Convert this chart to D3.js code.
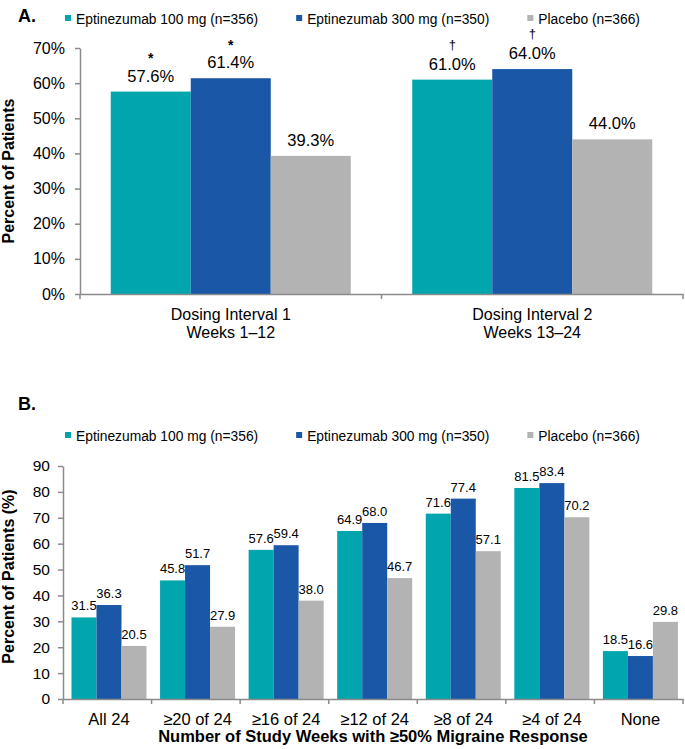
<!DOCTYPE html>
<html>
<head>
<meta charset="utf-8">
<script src="https://cdn.jsdelivr.net/npm/d3@7"></script>
<style>
  body { margin: 0; background: #fff; }
  svg { display: block; font-family: "Liberation Sans", Arial, sans-serif; }
</style>
</head>
<body>
<div class="chart"></div>
<script>
// series
var seriesNames = ["Eptinezumab 100 mg (n=356)", "Eptinezumab 300 mg (n=350)", "Placebo (n=366)"];
var seriesColors = ["#00a5ad", "#1a57a6", "#b3b3b3"];

// panel A: dosing intervals
var intervalCats = ["Dosing Interval 1\nWeeks 1\u201312", "Dosing Interval 2\nWeeks 13\u201324"];
var interval100 = [57.6, 61.0];
var interval300 = [61.4, 64.0];
var intervalPbo = [39.3, 44.0];
var intervalMarks = ["*", "\u2020"];
var intervalTicks = [0, 10, 20, 30, 40, 50, 60, 70];

// panel B: number of weeks with response
var weekCats = ["All 24", "\u226520 of 24", "\u226516 of 24", "\u226512 of 24", "\u22658 of 24", "\u22654 of 24", "None"];
var weeks100 = [31.5, 45.8, 57.6, 64.9, 71.6, 81.5, 18.5];
var weeks300 = [36.3, 51.7, 59.4, 68.0, 77.4, 83.4, 16.6];
var weeksPbo = [20.5, 27.9, 38.0, 46.7, 57.1, 70.2, 29.8];
var weekTicks = [0, 10, 20, 30, 40, 50, 60, 70, 80, 90];

var axisColor = "#8a8a8a";

var svg = d3.select(".chart").append("svg")
    .attr("width", 685)
    .attr("height", 749);

function legend(y) {
    var g = svg.append("g").attr("transform", "translate(0," + y + ")");
    var x = 65;
    seriesNames.forEach(function(name, i) {
        g.append("rect").attr("x", x).attr("y", -9).attr("width", 6).attr("height", 6)
            .attr("fill", seriesColors[i]);
        var t = g.append("text").attr("x", x + 11).attr("y", 0)
            .style("font-size", "13.8px").text(name);
        x += 11 + t.node().getComputedTextLength() + 38;
    });
}

function drawPanel(c) {
    var g = svg.append("g");
    var x0 = d3.scaleBand().domain(c.cats).range([c.left, c.right]);
    var x1 = d3.scaleBand().domain([0, 1, 2]).range([0, 3 * c.barW]);
    var y = d3.scaleLinear().domain([0, d3.max(c.ticks)]).range([c.bottom, c.top]);
    var off = (x0.bandwidth() - 3 * c.barW) / 2 + c.shift;

    var rows = c.cats.map(function(cat, i) {
        return {cat: cat, i: i, vals: c.values.map(function(v, s) { return {v: v[i], s: s, i: i}; })};
    });

    var slice = g.selectAll(".slice").data(rows).enter().append("g")
        .attr("class", "slice")
        .attr("transform", function(d) { return "translate(" + (x0(d.cat) + off) + ",0)"; });

    slice.selectAll("rect").data(function(d) { return d.vals; })
        .enter().append("rect")
        .attr("x", function(d) { return x1(d.s); })
        .attr("width", x1.bandwidth())
        .attr("y", function(d) { return y(d.v); })
        .attr("height", function(d) { return y(0) - y(d.v); })
        .attr("fill", function(d) { return seriesColors[d.s]; });

    slice.selectAll("text.val").data(function(d) { return d.vals; })
        .enter().append("text").attr("class", "val")
        .attr("x", function(d) { return x1(d.s) + x1.bandwidth() / 2; })
        .attr("y", function(d) { return y(d.v) - c.labelGap; })
        .attr("text-anchor", "middle")
        .style("font-size", c.labelSize + "px")
        .text(function(d) { return c.labelFmt(d.v); });

    if (c.marks) {
        // * and dagger above the two active arms
        slice.selectAll("text.mark").data(function(d) { return d.vals.filter(function(v) { return v.s < 2; }); })
            .enter().append("text").attr("class", "mark")
            .attr("x", function(d) { return x1(d.s) + x1.bandwidth() / 2; })
            .attr("y", function(d) { return y(d.v) - c.labelGap + (c.marks[d.i] == "*" ? -18.5 : -21); })
            .attr("text-anchor", "middle")
            .style("font-size", function(d) { return c.marks[d.i] == "*" ? "14px" : "13px"; })
            .style("font-weight", function(d) { return c.marks[d.i] == "*" ? "bold" : null; })
            .text(function(d) { return c.marks[d.i]; });
    }

    // y axis
    var ya = g.append("g").attr("transform", "translate(" + c.left + ",0)")
        .call(d3.axisLeft(y).tickValues(c.ticks).tickFormat(c.tickFmt)
            .tickSize(5).tickSizeOuter(0).tickPadding(c.tickPad))
        .attr("font-family", null).attr("font-size", null);
    ya.select(".domain").attr("stroke", axisColor).attr("stroke-width", 1.5);
    ya.selectAll(".tick line").attr("stroke", axisColor).attr("stroke-width", 1.5);
    ya.selectAll(".tick text").attr("fill", "#000").style("font-size", c.tickFont + "px");

    // x axis
    var xa = g.append("g").attr("transform", "translate(0," + c.bottom + ")")
        .call(d3.axisBottom(x0).tickSize(0).tickSizeOuter(0).tickFormat(""))
        .attr("font-family", null).attr("font-size", null);
    xa.select(".domain").attr("stroke", axisColor).attr("stroke-width", 1.5);
    var bounds = [c.left].concat(c.cats.map(function(d) { return x0(d) + x0.bandwidth(); }));
    xa.selectAll(".bound").data(bounds).enter().append("line")
        .attr("x1", function(d) { return d; }).attr("x2", function(d) { return d; })
        .attr("y1", 0).attr("y2", 5)
        .attr("stroke", axisColor).attr("stroke-width", 1.5);

    var cl = xa.selectAll(".cat").data(c.cats).enter().append("text")
        .attr("class", "cat")
        .attr("text-anchor", "middle")
        .attr("fill", "#000")
        .style("font-size", c.catFont + "px");
    cl.each(function(d) {
        var t = d3.select(this);
        d.split("\n").forEach(function(line, k) {
            t.append("tspan")
                .attr("x", x0(d) + x0.bandwidth() / 2 + c.shift)
                .attr("y", 26 + k * 18)
                .text(line);
        });
    });

    // titles
    g.append("text")
        .attr("transform", "translate(14," + ((c.top + c.bottom) / 2 + c.yTitleShift) + ") rotate(-90)")
        .attr("text-anchor", "middle")
        .style("font-size", "16px").style("font-weight", "bold")
        .text(c.yTitle);
    if (c.xTitle) {
        g.append("text")
            .attr("x", (c.left + c.right) / 2).attr("y", c.bottom + 43)
            .attr("text-anchor", "middle")
            .style("font-size", "16.5px").style("font-weight", "bold")
            .text(c.xTitle);
    }
}

// panel A
svg.append("text").attr("x", 18).attr("y", 22)
    .style("font-size", "18px").style("font-weight", "bold").text("A.");
legend(24);
drawPanel({
    cats: intervalCats,
    values: [interval100, interval300, intervalPbo],
    marks: intervalMarks,
    ticks: intervalTicks,
    tickFmt: function(d) { return d + "%"; },
    labelFmt: function(v) { return v.toFixed(1) + "%"; },
    left: 80, right: 683, top: 48, bottom: 294,
    barW: 80, shift: 0,
    labelSize: 16.5, labelGap: 10,
    tickFont: 16, tickPad: 10, catFont: 16,
    yTitle: "Percent of Patients", yTitleShift: 0
});

// panel B
svg.append("text").attr("x", 18).attr("y", 410)
    .style("font-size", "18px").style("font-weight", "bold").text("B.");
legend(441);
drawPanel({
    cats: weekCats,
    values: [weeks100, weeks300, weeksPbo],
    ticks: weekTicks,
    tickFmt: function(d) { return d; },
    labelFmt: function(v) { return v.toFixed(1); },
    left: 63, right: 683, top: 466, bottom: 699,
    barW: 25, shift: 1.7,
    labelSize: 13, labelGap: 7,
    tickFont: 15.5, tickPad: 8, catFont: 16.5,
    yTitle: "Percent of Patients (%)", yTitleShift: -6,
    xTitle: "Number of Study Weeks with \u226550% Migraine Response"
});
</script>
</body>
</html>
